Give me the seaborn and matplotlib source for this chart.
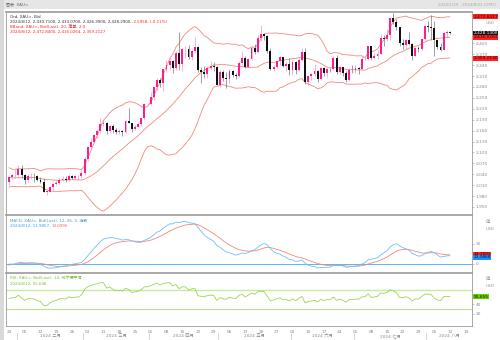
import numpy as np
import pandas as pd
import matplotlib
matplotlib.use("Agg")
import matplotlib.pyplot as plt
import matplotlib.transforms as mtrans
import seaborn as sns

# ---------------- data ----------------
dates = pd.bdate_range("2024-01-29", "2024-08-12")

opens = [2018, 2033, 2037, 2039, 2054, 2039, 2025, 2035, 2035, 2034,
         2024, 2020, 1992, 1992, 2004, 2013, 2017, 2025, 2026, 2024,
         2035, 2031, 2034, 2034, 2044, 2083, 2114, 2128, 2148, 2159,
         2179, 2182, 2158, 2174, 2162, 2155, 2160, 2157, 2186, 2181,
         2165, 2171, 2178, 2195, 2233, 2233, 2251, 2280, 2300, 2291,
         2329, 2339, 2352, 2333, 2372, 2344, 2383, 2383, 2361, 2379,
         2391, 2327, 2322, 2316, 2332, 2337, 2335, 2286, 2320, 2304,
         2301, 2323, 2314, 2309, 2346, 2360, 2336, 2358, 2386, 2376,
         2415, 2425, 2420, 2379, 2329, 2334, 2350, 2361, 2338, 2343,
         2327, 2349, 2327, 2355, 2376, 2293, 2311, 2316, 2324, 2303,
         2333, 2319, 2329, 2328, 2360, 2322, 2334, 2319, 2298, 2327,
         2326, 2332, 2330, 2356, 2356, 2392, 2359, 2364, 2371, 2415,
         2411, 2422, 2469, 2459, 2445, 2400, 2396, 2409, 2397, 2364,
         2387, 2384, 2411, 2447, 2446, 2443, 2409, 2390, 2382, 2427,
         2430.71]
highs = [2036, 2044, 2055, 2065, 2065, 2041, 2040, 2043, 2044, 2037,
         2032, 2031, 1998, 2008, 2016, 2023, 2031, 2034, 2035, 2041,
         2038, 2038, 2038, 2053, 2088, 2119, 2141, 2152, 2165, 2195,
         2189, 2184, 2175, 2179, 2167, 2164, 2163, 2188, 2223, 2182,
         2176, 2185, 2196, 2236, 2236, 2266, 2281, 2305, 2305, 2330,
         2354, 2365, 2355, 2378, 2431, 2388, 2392, 2395, 2384, 2418,
         2393, 2335, 2338, 2338, 2352, 2349, 2337, 2326, 2326, 2320,
         2330, 2326, 2318, 2351, 2378, 2364, 2359, 2393, 2397, 2422,
         2450, 2428, 2422, 2386, 2339, 2351, 2364, 2363, 2350, 2360,
         2354, 2352, 2359, 2388, 2387, 2314, 2318, 2342, 2326, 2336,
         2334, 2331, 2332, 2365, 2369, 2337, 2336, 2324, 2331, 2339,
         2339, 2336, 2365, 2364, 2393, 2393, 2372, 2381, 2425, 2424,
         2440, 2470, 2483, 2468, 2445, 2411, 2412, 2431, 2400, 2390,
         2393, 2412, 2451, 2462, 2477, 2461, 2411, 2402, 2431, 2436,
         2433.07]
lows = [2011, 2028, 2031, 2034, 2031, 2014, 2020, 2027, 2020, 2021,
        2017, 1990, 1984, 1990, 1996, 2010, 2013, 2021, 2019, 2022,
        2026, 2025, 2024, 2030, 2039, 2077, 2112, 2125, 2141, 2154,
        2174, 2150, 2154, 2154, 2150, 2152, 2146, 2153, 2180, 2157,
        2163, 2170, 2173, 2188, 2230, 2229, 2243, 2272, 2280, 2268,
        2321, 2327, 2319, 2326, 2326, 2324, 2359, 2356, 2353, 2372,
        2321, 2292, 2305, 2305, 2326, 2325, 2285, 2280, 2296, 2277,
        2291, 2308, 2303, 2306, 2340, 2333, 2334, 2355, 2371, 2373,
        2407, 2409, 2374, 2326, 2325, 2333, 2340, 2334, 2325, 2314,
        2314, 2316, 2325, 2350, 2287, 2286, 2298, 2309, 2294, 2299,
        2311, 2308, 2322, 2327, 2316, 2316, 2310, 2293, 2295, 2318,
        2318, 2315, 2326, 2353, 2354, 2353, 2357, 2357, 2370, 2392,
        2407, 2410, 2453, 2437, 2393, 2385, 2384, 2394, 2353, 2364,
        2376, 2381, 2408, 2431, 2410, 2364, 2385, 2380, 2382, 2415,
        2426.39]
closes = [2033, 2037, 2039, 2054, 2039, 2025, 2035, 2035, 2034, 2024,
          2020, 1992, 1992, 2004, 2013, 2017, 2025, 2026, 2024, 2035,
          2031, 2034, 2034, 2044, 2083, 2114, 2128, 2148, 2159, 2179,
          2182, 2158, 2174, 2162, 2155, 2160, 2157, 2186, 2181, 2165,
          2171, 2178, 2195, 2233, 2233, 2251, 2280, 2300, 2291, 2329,
          2339, 2352, 2333, 2372, 2344, 2383, 2383, 2361, 2379, 2391,
          2327, 2322, 2316, 2332, 2337, 2335, 2286, 2320, 2304, 2301,
          2323, 2314, 2309, 2346, 2360, 2336, 2358, 2386, 2376, 2415,
          2425, 2420, 2379, 2329, 2334, 2350, 2361, 2338, 2343, 2327,
          2349, 2327, 2355, 2376, 2293, 2311, 2316, 2324, 2303, 2333,
          2319, 2329, 2328, 2360, 2322, 2334, 2319, 2298, 2327, 2326,
          2332, 2330, 2356, 2356, 2392, 2359, 2364, 2371, 2415, 2411,
          2422, 2469, 2459, 2445, 2400, 2396, 2409, 2397, 2364, 2387,
          2384, 2411, 2447, 2446, 2443, 2409, 2390, 2382, 2427, 2431,
          2428.29]
# closes before the visible window (Nov 2023 - Jan 26 2024), used only for indicator warm-up
warmup_close = [1982, 1985, 1992, 1978, 1969, 1950, 1958, 1940, 1946, 1963,
                1959, 1981, 1980, 1978, 1998, 1990, 1992, 2002, 2014, 2041,
                2044, 2036, 2072, 2029, 2019, 2025, 2028, 2004, 1982, 1980,
                2027, 2036, 2019, 2027, 2040, 2031, 2046, 2053, 2067, 2077,
                2065, 2063, 2059, 2042, 2043, 2045, 2027, 2030, 2024, 2029,
                2049, 2055, 2028, 2006, 2023, 2029, 2022, 2029, 2014, 2021,
                2018]

day_labels = ["29", "05", "12", "19", "26", "04", "11", "18", "25", "01",
              "08", "15", "22", "29", "06", "13", "20", "27", "03", "10",
              "17", "24", "01", "08", "15", "22", "29", "05", "12", "19"]
month_labels = ["2024 二月", "2024 三月", "2024 四月", "2024 五月",
                "2024 六月", "2024 七月", "2024 八月"]
month_starts = ["2024-02-01", "2024-03-01", "2024-04-01", "2024-05-01",
                "2024-06-01", "2024-07-01", "2024-08-01"]
price_ticks = [1950, 1980, 2010, 2040, 2070, 2100, 2130, 2160, 2190,
               2220, 2250, 2280, 2310, 2340, 2370, 2400]

# ---------------- indicators ----------------
n = len(dates)
allc = pd.Series(warmup_close + closes, dtype=float)
w = len(warmup_close)
mid = allc.rolling(20).mean()
sd = allc.rolling(20).std(ddof=0)
upper, lower = mid + 2 * sd, mid - 2 * sd
ema12 = allc.ewm(span=12, adjust=False).mean()
ema26 = allc.ewm(span=26, adjust=False).mean()
macd = ema12 - ema26
signal = macd.ewm(span=9, adjust=False).mean()
delta = allc.diff()
gain = delta.clip(lower=0).ewm(alpha=1 / 14, adjust=False).mean()
loss = (-delta.clip(upper=0)).ewm(alpha=1 / 14, adjust=False).mean()
rsi = 100 - 100 / (1 + gain / loss)

idx = np.arange(n)
df = pd.DataFrame({"i": idx, "open": opens, "high": highs, "low": lows,
                   "close": closes,
                   "upper": upper.values[w:], "mid": mid.values[w:],
                   "lower": lower.values[w:], "macd": macd.values[w:],
                   "signal": signal.values[w:], "rsi": rsi.values[w:]})

# ---------------- styling ----------------
sns.set_theme(style="white")
plt.rcParams["font.family"] = ["DejaVu Sans", "Noto Sans CJK SC"]
FS = 2.9
FSA = 3.1
UP, DN = "#ff1c8d", "#111111"
BB = "#f4887a"
W, H = 500, 340
fig = plt.figure(figsize=(5, 3.4), dpi=100)
fig.patch.set_facecolor("white")


def box(l, t, r, b):
    return [l / W, 1 - b / H, (r - l) / W, (b - t) / H]


# window chrome
fig.add_artist(plt.Rectangle((0, 1 - 9 / H), 1, 9 / H, transform=fig.transFigure,
                             fc="#e6e6e6", ec="none", zorder=0))
fig.add_artist(plt.Rectangle((0, 0), 4 / W, 1, transform=fig.transFigure,
                             fc="#d9d9d9", ec="none", zorder=0))
fig.text(6 / W, 1 - 4.5 / H, "图表  XAU=", fontsize=FS, color="#666666", va="center")
fig.text(496 / W, 1 - 4.5 / H, "2024/1/29 - 2024/8/21 (GMT)", fontsize=FS,
         color="#aaaaaa", va="center", ha="right")

ax = fig.add_axes(box(6, 12, 472, 215))
axm = fig.add_axes(box(6, 215, 472, 273), sharex=ax)
axr = fig.add_axes(box(6, 273, 472, 326), sharex=ax)

for a in (ax, axm, axr):
    a.set_facecolor("white")
    for s in a.spines.values():
        s.set_color("#9a9a9a")
        s.set_linewidth(0.6)
    a.spines["top"].set_linewidth(1.2)
    a.yaxis.tick_right()
    a.tick_params(axis="y", labelsize=FSA, colors="#9a9a9a", length=1.5, width=0.4, pad=1,
                  labelcolor="#8a8a8a")
    a.tick_params(axis="x", length=0)

# ---- candles ----
body_lo = np.minimum(df["open"], df["close"])
body_h = np.maximum(np.abs(df["close"] - df["open"]), 0.8)
up = df["close"] >= df["open"]
ax.vlines(df["i"][up], df["low"][up], df["high"][up], color="#ff8fc0", lw=0.5, zorder=2)
ax.vlines(df["i"][~up], df["low"][~up], df["high"][~up], color="#777777", lw=0.5, zorder=2)
ax.bar(df["i"][up], body_h[up], bottom=body_lo[up], width=0.6, color=UP, lw=0, zorder=3)
ax.bar(df["i"][~up], body_h[~up], bottom=body_lo[~up], width=0.6, color=DN, lw=0, zorder=3)

for col in ("upper", "mid", "lower"):
    sns.lineplot(data=df, x="i", y=col, ax=ax, color=BB, lw=0.6, legend=False, zorder=1)

ax.set_xlim(-0.95, 147)
ax.set_ylim(1928, 2486)
ax.set_yticks(price_ticks)
ax.set_yticklabels([f"{v:,}" for v in price_ticks])
ax.set_xlabel("")
ax.set_ylabel("")

ytr = mtrans.blended_transform_factory(ax.transAxes, ax.transData)


def valbox(a, y, txt, fc, tc, tr):
    a.text(1.003, y, txt, transform=tr, fontsize=FSA, color=tc, va="center", ha="left",
           bbox=dict(boxstyle="square,pad=0.1", fc=fc, ec="none"), clip_on=False, zorder=10)


valbox(ax, 2472.84, "2,472.8417", "#ff2020", "#3a0000", ytr)
valbox(ax, 2428.13, "2,428.1300", "#111111", "white", ytr)
valbox(ax, 2416.03, "2,416.0264", "#ff2020", "#3a0000", ytr)
valbox(ax, 2359.21, "2,359.2130", "#ff2020", "#3a0000", ytr)
ax.text(1.03, 2455, "USD", transform=ytr, fontsize=FSA, color="#9a9a9a", va="center")

# header texts
tx = ax.transAxes
ax.text(0.008, 0.985, "Ord, XAU=, Bid", transform=tx, fontsize=FS, color="#333333", va="top")
t2 = ax.text(0.008, 0.96, "2024/8/12, 2,430.7100, 2,433.0700, 2,426.3900, 2,428.2900, ",
             transform=tx, fontsize=FS, color="#333333", va="top")
ax.annotate("-2.5958, (-0.11%)", xycoords=t2, xy=(1, 0), va="bottom",
            fontsize=FS, color="#ff2020")
ax.text(0.008, 0.935, "BBand, XAU=, Bid(Last), 20, 简单, 2.0", transform=tx, fontsize=FS,
        color="#ff2020", va="top")
ax.text(0.008, 0.91, "2024/8/12, 2,472.8400, 2,416.0264, 2,359.2127", transform=tx,
        fontsize=FS, color="#ff2020", va="top")

# ---- MACD ----
axm.axhline(0, color="#5ab4f5", lw=0.7, zorder=1)
sns.lineplot(data=df, x="i", y="signal", ax=axm, color="#f4887a", lw=0.6, legend=False)
sns.lineplot(data=df, x="i", y="macd", ax=axm, color="#6ec0f8", lw=0.6, legend=False)
axm.set_ylim(-14, 73)
axm.set_yticks([0, 30])
axm.set_yticklabels(["0", "30"])
mtr = mtrans.blended_transform_factory(axm.transAxes, axm.transData)
valbox(axm, 14.6, "13.1001", "#ff2020", "#3a0000", mtr)
valbox(axm, 9.8, "11.9868", "#1e90ff", "#001a40", mtr)
axm.text(1.03, 62, "值", transform=mtr, fontsize=FSA, color="#9a9a9a", va="center")
axm.text(1.03, 52, "USD", transform=mtr, fontsize=FSA, color="#9a9a9a", va="center")
axm.text(0.008, 0.94, "MACD, XAU=, Bid(Last), 12, 26, 9, 指数", transform=axm.transAxes,
         fontsize=FS, color="#3d9be9", va="top")
m2 = axm.text(0.008, 0.85, "2024/8/12, 11.9857, ", transform=axm.transAxes,
              fontsize=FS, color="#3d9be9", va="top")
axm.annotate("13.0995", xycoords=m2, xy=(1, 0), va="bottom", fontsize=FS, color="#f06050")
axm.set_xlabel("")
axm.set_ylabel("")

# ---- RSI ----
axr.axhline(70, color="#c5eaa0", lw=1.0)
axr.axhline(30, color="#b5e38a", lw=0.8)
sns.lineplot(data=df, x="i", y="rsi", ax=axr, color="#9ad64f", lw=0.6, legend=False)
axr.set_ylim(-6, 105)
axr.set_yticks([20, 40])
axr.set_yticklabels(["20", "40"])
rtr = mtrans.blended_transform_factory(axr.transAxes, axr.transData)
valbox(axr, 55.6, "55.655", "#66cc00", "#102000", rtr)
axr.text(1.03, 92, "值", transform=rtr, fontsize=FSA, color="#9a9a9a", va="center")
axr.text(1.03, 78, "USD", transform=rtr, fontsize=FSA, color="#9a9a9a", va="center")
axr.text(0.008, 0.94, "RSI, XAU=, Bid(Last), 14, 威尔德平滑", transform=axr.transAxes,
         fontsize=FS, color="#77c030", va="top")
axr.text(0.008, 0.83, "2024/8/12, 55.646", transform=axr.transAxes,
         fontsize=FS, color="#77c030", va="top")
axr.set_xlabel("")
axr.set_ylabel("")

# x axis
ticks = np.arange(0, 150, 5)
axr.set_xticks(ticks)
axr.set_xticklabels(day_labels)
axr.tick_params(axis="x", labelsize=FSA, labelcolor="#8a8a8a", colors="#9a9a9a",
                length=1.5, width=0.4, pad=1.2)
for a in (ax, axm):
    a.tick_params(axis="x", labelbottom=False, length=0)

xtr = mtrans.blended_transform_factory(axr.transData, fig.transFigure)
pos = [dates.searchsorted(pd.Timestamp(d)) for d in month_starts] + [147.5]
for k, lab in enumerate(month_labels):
    a0, a1 = pos[k] - 0.5, pos[k + 1] - 0.5
    axr.text((a0 + a1) / 2, 1 - 336 / H, lab, transform=xtr, fontsize=FSA,
             color="#8a8a8a", ha="center", va="center")
    axr.plot([a0, a0], [1 - 333 / H, 1 - 339 / H], transform=xtr, color="#c0c0c0",
             lw=0.5, clip_on=False)
axr.set_xlim(-0.95, 147)

fig.savefig("out.png", dpi=100)
